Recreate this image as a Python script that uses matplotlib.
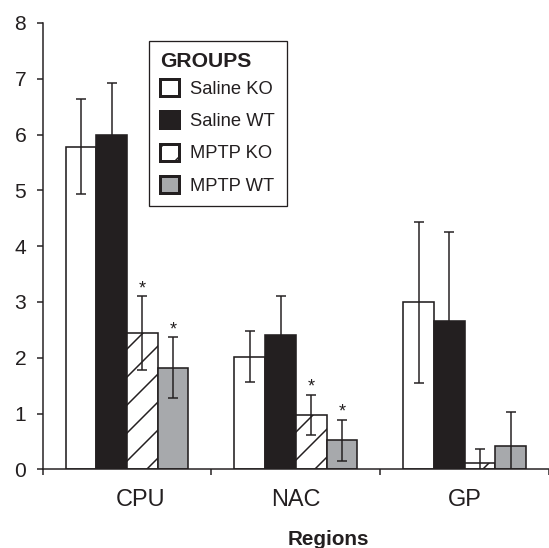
import matplotlib
matplotlib.use('Agg')
import matplotlib.pyplot as plt
from matplotlib.patches import Patch
import matplotlib.transforms as mtransforms
import numpy as np

# ---------------- data ----------------
regions = ['CPU', 'NAC', 'GP']
groups = ['Saline KO', 'Saline WT', 'MPTP KO', 'MPTP WT']
saline_ko = [5.78, 2.02, 2.99]
saline_ko_err = [0.85, 0.46, 1.45]
saline_wt = [6.00, 2.40, 2.65]
saline_wt_err = [0.92, 0.70, 1.60]
mptp_ko = [2.44, 0.98, 0.12]
mptp_ko_err = [0.66, 0.36, 0.25]
mptp_wt = [1.82, 0.52, 0.42]
mptp_wt_err = [0.55, 0.37, 0.60]
mptp_ko_sig = [True, True, False]
mptp_wt_sig = [True, True, False]
y_ticks = [0, 1, 2, 3, 4, 5, 6, 7, 8]
legend_title = 'GROUPS'
x_label = 'Regions'

# ---------------- style ----------------
DPI = 168
W, H = 549, 548
def pt(px):
    return px * 72.0 / DPI

DARK = '#231f20'
GRAY = '#a7a9ac'
plt.rcParams['font.family'] = ['Liberation Sans', 'DejaVu Sans']
plt.rcParams['hatch.color'] = DARK
plt.rcParams['hatch.linewidth'] = pt(1.5)

fig = plt.figure(figsize=(W / DPI, H / DPI), dpi=DPI)
x0, y0, ytop = 42.7, 469.3, 22.9
ax = fig.add_axes([x0 / W, (H - y0) / H, (W - x0) / W, (y0 - ytop) / H])

values = [saline_ko, saline_wt, mptp_ko, mptp_wt]
errors = [saline_ko_err, saline_wt_err, mptp_ko_err, mptp_wt_err]
faces = ['white', DARK, 'white', GRAY]
hatches = [None, None, '//', None]
sigs = [None, None, mptp_ko_sig, mptp_wt_sig]

x = np.arange(len(regions))
width = 1 / 5.5
for i, (vals, errs, fc, ht, sg) in enumerate(zip(values, errors, faces, hatches, sigs)):
    xs = x + (i - 1.5) * width
    ax.bar(xs, vals, width=width, color=fc, edgecolor=DARK, linewidth=pt(1.6),
           hatch=ht, zorder=2)
    ax.errorbar(xs, vals, yerr=errs, fmt='none', ecolor=DARK, elinewidth=pt(1.5),
                capsize=pt(4.7), capthick=pt(1.5), zorder=3)
    if sg is not None:
        for xi, v, e, s in zip(xs, vals, errs, sg):
            if s:
                ax.annotate('*', xy=(xi, v + e), xytext=(0, pt(3)),
                            textcoords='offset points', ha='center', va='baseline',
                            fontsize=pt(18), color=DARK)

ax.set_xlim(-0.5, -0.5 + (W - x0) / 171.4)
ax.set_ylim(0, 8)
ax.set_yticks(y_ticks)
ax.set_yticklabels([str(t) for t in y_ticks])
ax.set_xticks(np.arange(len(regions) + 1) - 0.5)
ax.set_xticklabels([])
ax.set_xticks(x, minor=True)
ax.set_xticklabels(regions, minor=True)

for s in ['top', 'right']:
    ax.spines[s].set_visible(False)
for s in ['left', 'bottom']:
    ax.spines[s].set_color(DARK)
    ax.spines[s].set_linewidth(pt(1.5))

ax.tick_params(axis='y', direction='out', length=pt(6), width=pt(1.5), color=DARK,
               pad=pt(10.5), labelsize=pt(21), labelcolor=DARK)
ax.tick_params(axis='x', which='major', direction='out', length=pt(6), width=pt(1.5),
               color=DARK)
ax.tick_params(axis='x', which='minor', length=0, pad=pt(19), labelsize=pt(23.5),
               labelcolor=DARK)

# CPU label sits slightly right of its group in the original
lab = ax.xaxis.get_minor_ticks()[0].label1
lab.set_transform(lab.get_transform() +
                  mtransforms.ScaledTranslation(pt(13) / 72, 0, fig.dpi_scale_trans))

fig.text(328 / W, 3 / H, x_label, ha='center', va='baseline', fontweight='bold',
         fontsize=pt(20.7), color=DARK)

handles = [Patch(facecolor=fc, edgecolor=DARK, linewidth=pt(3), hatch=ht)
           for fc, ht in zip(faces, hatches)]
fs = pt(18.4)
lspace = 0.74
leg = fig.legend(handles, groups, loc='upper left',
                 bbox_to_anchor=(149 / W, 1 - 41 / H), borderaxespad=0,
                 frameon=True, fancybox=False, edgecolor=DARK, framealpha=1,
                 title=legend_title,
                 title_fontproperties={'weight': 'bold', 'size': pt(21.2)},
                 prop={'size': fs}, alignment='left',
                 handlelength=pt(19) / fs, handleheight=pt(19) / fs,
                 handletextpad=pt(11) / fs, labelspacing=lspace, borderpad=0.62)
# tighter gap between the title and the first entry
leg._legend_box.sep = max(lspace * fs - pt(6), 0)
leg.get_frame().set_linewidth(pt(1.3))
for t in leg.get_texts():
    t.set_color(DARK)
leg.get_title().set_color(DARK)

fig.savefig('out.png', dpi=DPI)
